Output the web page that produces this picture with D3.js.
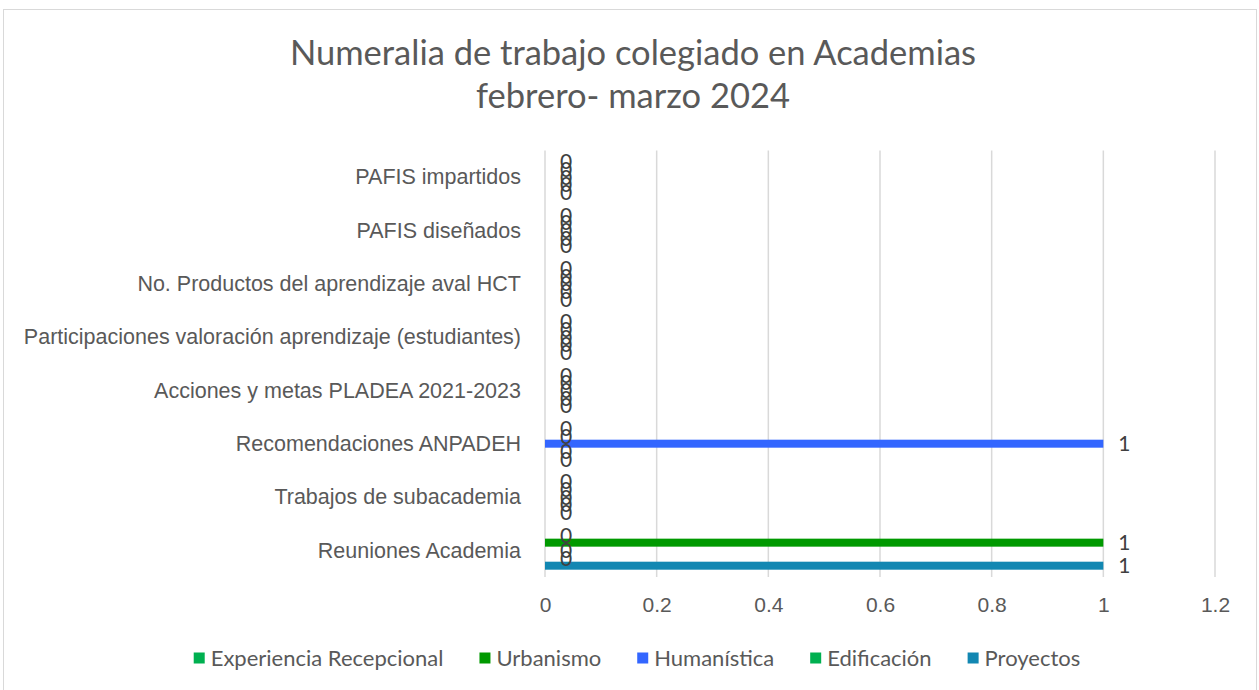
<!DOCTYPE html>
<html>
<head>
<meta charset="utf-8">
<script src="https://cdn.jsdelivr.net/npm/d3@7"></script>
<style>
  html, body { margin: 0; padding: 0; background: #fff; }
  svg { display: block; font-family: "Gill Sans MT", "Gill Sans", Lato, sans-serif; }
</style>
</head>
<body>
<svg id="chart" width="1259" height="690"></svg>
<script>
// categories top to bottom
const categories = [
  'PAFIS impartidos',
  'PAFIS diseñados',
  'No. Productos del aprendizaje aval HCT',
  'Participaciones valoración aprendizaje (estudiantes)',
  'Acciones y metas PLADEA 2021-2023',
  'Recomendaciones ANPADEH',
  'Trabajos de subacademia',
  'Reuniones Academia',
];

// series values, same order as categories
const experienciaRecepcional = [0, 0, 0, 0, 0, 0, 0, 0];
const urbanismo = [0, 0, 0, 0, 0, 0, 0, 1];
const humanistica = [0, 0, 0, 0, 0, 1, 0, 0];
const edificacion = [0, 0, 0, 0, 0, 0, 0, 0];
const proyectos = [0, 0, 0, 0, 0, 0, 0, 1];

const seriesNames = ['Experiencia Recepcional', 'Urbanismo', 'Humanística', 'Edificación', 'Proyectos'];
const seriesValues = [experienciaRecepcional, urbanismo, humanistica, edificacion, proyectos];
const seriesColors = ['#00b050', '#009900', '#3366ff', '#00b050', '#1287b2'];

const xTicks = [0, 0.2, 0.4, 0.6, 0.8, 1, 1.2];

const textColor = '#595959';
const gridColor = '#d9d9d9';

const svg = d3.select('#chart');

// chart frame
svg.append('rect')
  .attr('x', 3.5).attr('y', 9.5)
  .attr('width', 1253).attr('height', 700)
  .attr('fill', '#fff')
  .attr('stroke', gridColor)
  .attr('stroke-width', 1);

// title
const title = svg.append('text')
  .attr('text-anchor', 'middle')
  .attr('fill', textColor)
  .style('font-size', '34.5px');
title.append('tspan').attr('x', 633).attr('y', 65).text('Numeralia de trabajo colegiado en Academias');
title.append('tspan').attr('x', 633).attr('y', 108).text('febrero- marzo 2024');

const plot = { left: 545, right: 1215, top: 150.4, bottom: 577 };

const x = d3.scaleLinear().domain([0, 1.2]).range([plot.left, plot.right]);

const y = d3.scaleBand()
  .domain(categories)
  .range([plot.top, plot.bottom])
  .paddingInner(0.28)
  .paddingOuter(0.14);

const ySeries = d3.scaleBand()
  .domain(seriesNames)
  .range([0, y.bandwidth()])
  .padding(0);

// gridlines
svg.append('g')
  .selectAll('line')
  .data(xTicks)
  .join('line')
  .attr('x1', (d) => x(d)).attr('x2', (d) => x(d))
  .attr('y1', plot.top).attr('y2', plot.bottom)
  .attr('stroke', gridColor)
  .attr('stroke-width', 1.5);

// x axis labels
const xAxis = svg.append('g')
  .attr('transform', `translate(0,${plot.bottom})`)
  .call(d3.axisBottom(x).tickValues(xTicks).tickFormat((d) => String(d)).tickSize(0).tickPadding(20));
xAxis.select('.domain').remove();
xAxis.selectAll('text')
  .attr('fill', textColor)
  .style('font-size', '21px')
  .style('font-family', null);

// category labels
const yAxis = svg.append('g')
  .attr('transform', `translate(${plot.left},0)`)
  .call(d3.axisLeft(y).tickSize(0).tickPadding(24));
yAxis.select('.domain').remove();
yAxis.selectAll('text')
  .attr('fill', textColor)
  .attr('dy', '0.34em')
  .style('font-size', '21.5px')
  .style('font-family', null);

// bars
const rows = seriesNames.flatMap((name, si) =>
  categories.map((cat, ci) => ({ name, cat, value: seriesValues[si][ci], color: seriesColors[si] }))
);

const barH = 8;

svg.append('g')
  .selectAll('rect')
  .data(rows.filter((d) => d.value > 0))
  .join('rect')
  .attr('x', x(0))
  .attr('y', (d) => y(d.cat) + ySeries(d.name) + ySeries.bandwidth() / 2 - barH / 2)
  .attr('width', (d) => x(d.value) - x(0))
  .attr('height', barH)
  .attr('fill', (d) => d.color);

// data labels
svg.append('g')
  .selectAll('text')
  .data(rows)
  .join('text')
  .attr('x', (d) => x(d.value) + 15)
  .attr('y', (d) => y(d.cat) + ySeries(d.name) + ySeries.bandwidth() / 2)
  .attr('dy', '0.36em')
  .attr('fill', '#404040')
  .style('font-size', '21px')
  .text((d) => d.value);

// legend
const legend = svg.append('g').attr('transform', 'translate(0,659)');
const items = legend.selectAll('g')
  .data(seriesNames)
  .join('g');
items.append('rect')
  .attr('width', 11).attr('height', 11)
  .attr('y', -6.5)
  .attr('fill', (d, i) => seriesColors[i]);
items.append('text')
  .attr('x', 17)
  .attr('dy', '0.34em')
  .attr('fill', textColor)
  .style('font-size', '22px')
  .text((d) => d);

let widths = [];
items.each(function () {
  widths.push(this.querySelector('text').getComputedTextLength() + 17);
});
const gap = 36;
const total = d3.sum(widths) + gap * (widths.length - 1);
let cursor = 637 - total / 2;
items.attr('transform', (d, i) => {
  const pos = cursor;
  cursor += widths[i] + gap;
  return `translate(${pos},0)`;
});
</script>
</body>
</html>
